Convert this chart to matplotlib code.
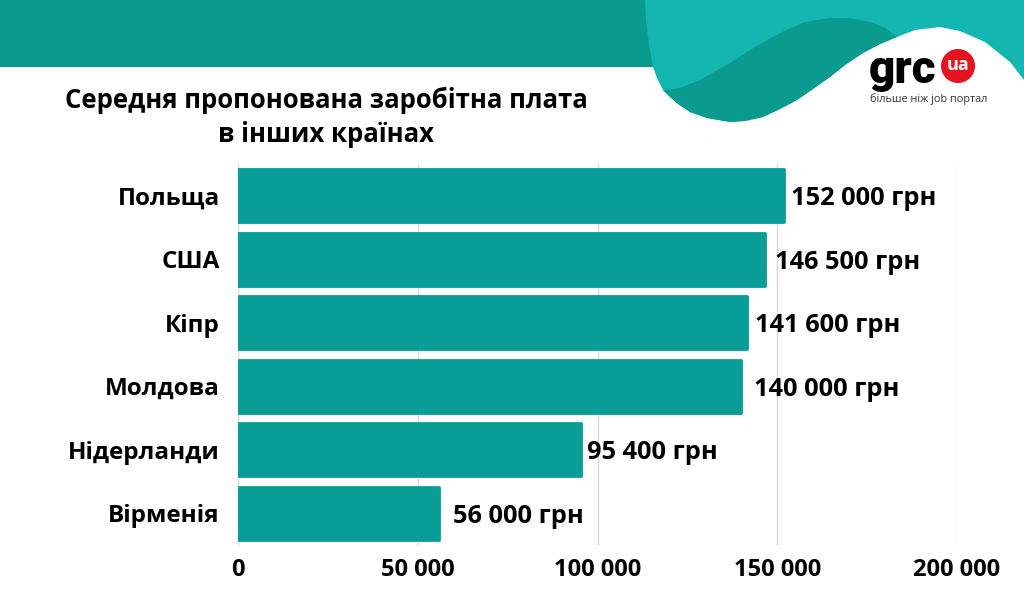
import matplotlib
matplotlib.use("Agg")
import matplotlib.pyplot as plt
from matplotlib.patches import Polygon, Circle, Rectangle
from matplotlib.ticker import FuncFormatter

# дані
countries = ["Польща", "США", "Кіпр", "Молдова", "Нідерланди", "Вірменія"]
salaries = [152000, 146500, 141600, 140000, 95400, 56000]
xticks = [0, 50000, 100000, 150000, 200000]
title = "Середня пропонована заробітна плата\nв інших країнах"

# відступи підписів від кінця смуги (px), як на оригіналі
label_pad = [7, 10, 8, 13, 6, 14]

bar_color = "#089e97"
dark_teal = "#0a9a8e"
light_teal = "#13b6b1"

plt.rcParams["font.family"] = ["Open Sans", "DejaVu Sans"]


def fmt(v):
    return f"{int(v):,}".replace(",", " ")


fig = plt.figure(figsize=(10.24, 5.95), dpi=100)
W, H = 1024, 595

# фон у піксельних координатах
bg = fig.add_axes([0, 0, 1, 1], zorder=0)
bg.set_xlim(0, W)
bg.set_ylim(H, 0)
bg.axis("off")

bg.add_patch(Rectangle((0, 0), 670, 67, color=dark_teal, lw=0))
light = [(645, 0), (1024, 0), (1024, 80), (1010, 62), (985, 42), (960, 31),
         (940, 27), (915, 30), (897, 37), (880, 44), (863, 53), (845, 65),
         (830, 77), (813, 89), (797, 100), (780, 109), (763, 117),
         (745, 121), (730, 122), (707, 118), (690, 112), (678, 104),
         (670, 97), (663, 90), (657, 78), (653, 67), (649, 45), (646, 20)]
bg.add_patch(Polygon(light, closed=True, color=light_teal, lw=0))
wave = [(663, 90), (680, 88), (700, 80), (730, 63), (755, 47), (780, 33),
        (805, 22), (830, 18), (850, 18), (870, 22), (885, 28), (897, 37),
        (880, 44), (863, 53), (845, 65), (830, 77), (813, 89), (797, 100),
        (780, 109), (763, 117), (745, 121), (730, 122), (707, 118),
        (690, 112), (678, 104), (670, 97)]
bg.add_patch(Polygon(wave, closed=True, color=dark_teal, lw=0))

# логотип
bg.text(869, 70, "grc", fontsize=33, fontweight="heavy", color="black",
        va="center", ha="left", family=["Roboto", "DejaVu Sans"])
bg.add_patch(Circle((958, 66), 17, color="#e3141f", lw=0))
bg.text(958, 65, "ua", fontsize=13, fontweight="bold", color="white",
        ha="center", va="center")
bg.text(870, 99, "більше ніж job портал", fontsize=7.8, color="#333333",
        ha="left", va="center")

bg.text(326, 117, title, fontsize=18.5, fontweight="bold", ha="center",
        va="center", linespacing=1.33)

# графік
ax = fig.add_axes([238 / W, 1 - 545 / H, (957 - 238) / W, (545 - 164) / H],
                  zorder=1)
ax.patch.set_alpha(0)
y = list(range(len(countries)))
bars = ax.barh(y, salaries, height=0.84, color=bar_color, zorder=2,
               edgecolor=bar_color, lw=2)
for b in bars:
    b.set_joinstyle("round")
ax.set_ylim(len(countries) - 0.5, -0.5)
ax.set_xlim(0, 200000)
ax.set_yticks(y)
ax.set_yticklabels(countries, fontsize=17.5, fontweight="bold")
ax.set_xticks(xticks)
ax.xaxis.set_major_formatter(FuncFormatter(lambda v, p: fmt(v)))
for lbl in ax.get_xticklabels():
    lbl.set_fontsize(17)
    lbl.set_fontweight("bold")
ax.tick_params(axis="y", length=0, pad=13)
ax.tick_params(axis="x", length=0, pad=9)
ax.grid(axis="x", color="#d9d9d9", lw=1, zorder=0)
for s in ax.spines.values():
    s.set_visible(False)

for yi, v, p in zip(y, salaries, label_pad):
    ax.annotate(fmt(v) + " грн", (v, yi), xytext=(p * 0.72, -2),
                textcoords="offset points", fontsize=18.3,
                fontweight="bold", va="center", ha="left")

fig.savefig("out.png", dpi=100)
